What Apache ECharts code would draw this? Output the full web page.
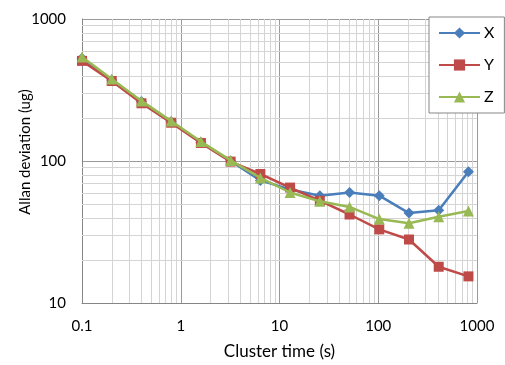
<!DOCTYPE html>
<html>
<head>
<meta charset="utf-8">
<script src="https://cdn.jsdelivr.net/npm/echarts@6/dist/echarts.min.js"></script>
<style>
  html, body { margin: 0; padding: 0; background: #ffffff; }
  #chart { width: 505px; height: 365px; }
</style>
</head>
<body>
<div id="chart"></div>
<script>
// Cluster times (s) of the Allan deviation estimate
const clusterTimes = [0.1, 0.2, 0.4, 0.8, 1.6, 3.2, 6.4, 12.8, 25.6, 51.2, 102.4, 204.8, 409.6, 819.2];
// Allan deviation per axis (ug)
const devX = [530, 372, 262, 189, 135, 100, 73, 63, 57, 60, 57, 43, 45, 84];
const devY = [507, 366, 255, 186, 134, 99, 81, 65, 52.5, 42, 33, 28, 18, 15.4];
const devZ = [540, 378, 265, 191, 137, 101, 76, 60, 52, 47.5, 39, 36.5, 40.5, 44.5];
const seriesNames = ['X', 'Y', 'Z'];

const X_MIN = 0.1, X_MAX = 1000, Y_MIN = 10, Y_MAX = 1000;

// minor log grid values (2..9 times each decade)
const minorX = [], minorY = [];
for (let d = X_MIN; d < X_MAX; d *= 10) for (let m = 2; m <= 9; m++) minorX.push(+(d * m).toPrecision(3));
for (let d = Y_MIN; d < Y_MAX; d *= 10) for (let m = 2; m <= 9; m++) minorY.push(+(d * m).toPrecision(3));
const minorGrid = minorX.map(v => [v, Y_MIN, 0]).concat(minorY.map(v => [X_MIN, v, 1]));

const font = 'Lato, "Open Sans", sans-serif';
const colors = ['#4a7ebb', '#be4b48', '#98b954'];
const symbols = ['diamond', 'rect', 'triangle'];
const symbolSizes = [11, 10, 11];

function pairs(vals) { return clusterTimes.map((t, i) => [t, vals[i]]); }
function plain(v) { return String(+Number(v).toPrecision(6)); }

const chart = echarts.init(document.getElementById('chart'), null, { renderer: 'canvas' });
chart.setOption({
  animation: false,
  backgroundColor: '#ffffff',
  textStyle: { fontFamily: font },
  grid: { left: 82, right: 28, top: 19, bottom: 62 },
  legend: {
    data: seriesNames,
    orient: 'vertical',
    left: 429,
    top: 17,
    padding: [8, 10, 8, 9],
    itemWidth: 41,
    itemHeight: 14,
    itemGap: 16,
    backgroundColor: '#ffffff',
    borderColor: '#868686',
    borderWidth: 1,
    textStyle: { fontFamily: font, fontSize: 16, color: '#000000', padding: [0, 0, 0, -1] }
  },
  xAxis: {
    type: 'log',
    logBase: 10,
    min: X_MIN,
    max: X_MAX,
    name: 'Cluster time (s)',
    nameLocation: 'middle',
    nameGap: 40,
    nameMoveOverlap: false,
    nameTextStyle: { fontFamily: font, fontSize: 17, color: '#000000' },
    axisLine: { show: true, lineStyle: { color: '#868686', width: 1 } },
    axisTick: { show: false },
    axisLabel: { fontFamily: font, fontSize: 15, color: '#000000', margin: 16, formatter: plain },
    splitLine: { show: true, lineStyle: { color: '#9a9a9a', width: 1 } }
  },
  yAxis: {
    type: 'log',
    logBase: 10,
    min: Y_MIN,
    max: Y_MAX,
    name: 'Allan deviation (ug)',
    nameLocation: 'middle',
    nameGap: 49,
    nameMoveOverlap: false,
    nameTextStyle: { fontFamily: font, fontSize: 15, color: '#000000', padding: [0, 0, 0, 18] },
    axisLine: { show: true, lineStyle: { color: '#868686', width: 1 } },
    axisTick: { show: false },
    axisLabel: { fontFamily: font, fontSize: 15, color: '#000000', margin: 16, formatter: plain },
    splitLine: { show: true, lineStyle: { color: '#9a9a9a', width: 1 } }
  },
  series: [
    {
      // light minor gridlines of the log-log plot
      type: 'custom',
      silent: true,
      z: 1,
      encode: { x: 0, y: 1 },
      data: minorGrid,
      renderItem: function (params, api) {
        const vertical = api.value(2) === 0;
        const a = vertical ? api.coord([api.value(0), Y_MIN]) : api.coord([X_MIN, api.value(1)]);
        const b = vertical ? api.coord([api.value(0), Y_MAX]) : api.coord([X_MAX, api.value(1)]);
        const x1 = vertical ? Math.round(a[0]) + 0.5 : a[0];
        const x2 = vertical ? Math.round(b[0]) + 0.5 : b[0];
        const y1 = vertical ? a[1] : Math.round(a[1]) + 0.5;
        const y2 = vertical ? b[1] : Math.round(b[1]) + 0.5;
        return {
          type: 'line',
          shape: { x1: x1, y1: y1, x2: x2, y2: y2 },
          style: { stroke: '#d4d4d4', lineWidth: 1 }
        };
      }
    }
  ].concat([devX, devY, devZ].map((vals, i) => ({
    name: seriesNames[i],
    type: 'line',
    z: 3 + i,
    data: pairs(vals),
    symbol: symbols[i],
    symbolSize: symbolSizes[i],
    showAllSymbol: true,
    color: colors[i],
    lineStyle: { color: colors[i], width: 2.5 },
    itemStyle: { color: colors[i], borderWidth: 0 }
  })))
});
</script>
</body>
</html>
